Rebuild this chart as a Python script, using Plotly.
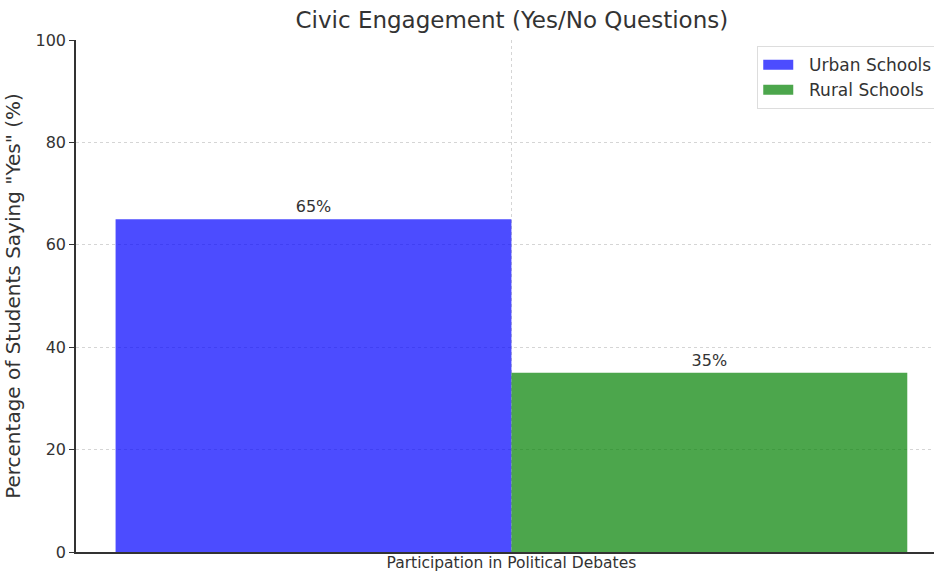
import plotly.graph_objects as go

categories = ["Participation in Political Debates"]
series_names = ["Urban Schools", "Rural Schools"]
urban_values = [65]
rural_values = [35]
colors = ["rgba(0,0,255,0.7)", "rgba(0,128,0,0.7)"]
y_ticks = [0, 20, 40, 60, 80, 100]

font = "DejaVu Sans"
fig = go.Figure()
for name, vals, col in zip(series_names, [urban_values, rural_values], colors):
    fig.add_trace(go.Bar(
        x=categories, y=vals, name=name, marker=dict(color=col, line=dict(width=0)),
        text=[f"{v}%" for v in vals], textposition="outside",
        textfont=dict(family=font, size=16, color="#333333"), cliponaxis=False,
        showlegend=False, legendgroup=name,
    ))
# legend entries with wide rectangle swatches
for name, col in zip(series_names, colors):
    fig.add_trace(go.Scatter(
        x=[None], y=[None], mode="lines", name="\u00a0\u00a0" + name, legendgroup=name,
        line=dict(color=col, width=11), showlegend=True,
    ))

fig.update_layout(
    width=934, height=575,
    barmode="group", bargap=0.2, bargroupgap=0,
    paper_bgcolor="white", plot_bgcolor="white",
    margin=dict(l=76, r=0, t=40, b=23, autoexpand=False),
    font=dict(family=font, color="#333333"),
    title=dict(text="Civic Engagement (Yes/No Questions)", x=0.548, xanchor="center",
               y=0.965, yanchor="middle", font=dict(size=23, color="#333333")),
    legend=dict(x=0.794, y=0.988, xanchor="left", yanchor="top",
                bgcolor="white", bordercolor="#dddddd", borderwidth=1,
                tracegroupgap=0, itemwidth=30,
                font=dict(size=17, color="#333333")),
    showlegend=True,
)
fig.update_xaxes(
    range=[-0.44, 0.427], showline=True, linecolor="#333333", linewidth=1.5,
    showgrid=True, gridcolor="#d5d5d5", griddash="dot", gridwidth=1,
    ticks="", ticklabelstandoff=-4, tickfont=dict(size=15.5, color="#333333"),
)
fig.update_yaxes(
    range=[0, 100], tickvals=y_ticks, showline=True, linecolor="#333333", linewidth=1.5,
    showgrid=True, gridcolor="#d5d5d5", griddash="dot", gridwidth=1,
    ticks="outside", ticklen=5, tickcolor="#333333", tickfont=dict(size=16, color="#333333"),
    title=dict(text='Percentage of Students Saying "Yes" (%)', font=dict(size=20, color="#333333"), standoff=10),
    zeroline=False,
)
fig.write_html("out.html")
